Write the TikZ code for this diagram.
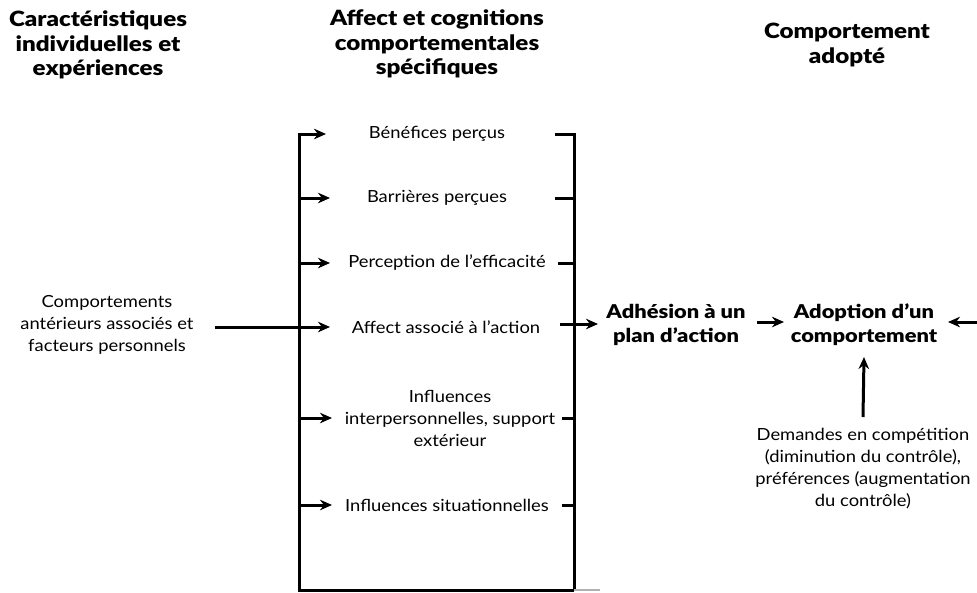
\documentclass[tikz,border=0pt]{standalone}
\usepackage{fontspec}
\setmainfont{Lato}[FakeStretch=1.1]
\newfontfamily\heavyfont{Lato Black}[FakeStretch=1.15]
\usetikzlibrary{arrows.meta}
\begin{document}
\begin{tikzpicture}[x=1pt,y=-1pt,
  body/.style={align=center,font=\fontsize{16.7}{22}\selectfont,inner sep=0pt},
  head/.style={align=center,font=\heavyfont\fontsize{21}{24.5}\selectfont,inner sep=0pt},
  key/.style={align=center,font=\heavyfont\fontsize{19}{24}\selectfont,inner sep=0pt},
  wire/.style={line width=3pt,line join=miter},
  arr/.style={wire,-{Stealth[length=12pt,width=10.5pt]}}]
\useasboundingbox (0,0) rectangle (977,592);

% column headings
\node[head] (h1) at (98,45) {Caractéristiques\\individuelles et\\expériences};
\node[head] (h2) at (437,44) {Affect et cognitions\\comportementales\\spécifiques};
\node[head] (h3) at (847,45) {Comportement\\adopté};

% left column
\node[body] (src) at (107,325) {Comportements\\antérieurs associés et\\facteurs personnels};

% middle column factors
\node[body] (b1) at (437,134) {Bénéfices perçus};
\node[body] (b2) at (437,198) {Barrières perçues};
\node[body] (b3) at (447,263) {Perception de l’efficacité};
\node[body] (b4) at (446,327) {Affect associé à l’action};
\node[body] (b5) at (450,418) {Influences\\interpersonnelles, support\\extérieur};
\node[body] (b6) at (447,505) {Influences situationnelles};

% right column
\node[key] (adh) at (676,325) {Adhésion à un\\plan d’action};
\node[key] (ado) at (864,325) {Adoption d’un\\comportement};
\node[body] (dem) at (863,469) {Demandes en compétition\\(diminution du contrôle),\\préférences (augmentation\\du contrôle)};

% bracket corners
\coordinate (Ltop) at (299,134);
\coordinate (Lbot) at (299,590);
\coordinate (Rbot) at (574,590);
\coordinate (Rtop) at (574,134);

% arrow tips on the left side of the factors
\coordinate (t1) at (326,134);
\coordinate (t2) at (330,198);
\coordinate (t3) at (330,263);
\coordinate (t4) at (330,327);
\coordinate (t5) at (332,418);
\coordinate (t6) at (332,505);

% stub ends on the right side of the factors
\coordinate (s1) at (555,134);
\coordinate (s2) at (555,198);
\coordinate (s3) at (558,263);
\coordinate (s4) at (560,324);
\coordinate (s5) at (562,418);
\coordinate (s6) at (562,505);

% bracket
\draw[arr] (Rbot) -- (Lbot) -- (Ltop) -- (t1);
\draw[wire] (s1) -- (Rtop) -- (Rbot);
\draw[gray!60,line width=1.2pt] (Rbot) -- (600,590);

% feeding arrows
\draw[arr] (Lbot |- t2) -- (t2);
\draw[arr] (Lbot |- t3) -- (t3);
\draw[arr] (Lbot |- t5) -- (t5);
\draw[arr] (Lbot |- t6) -- (t6);
\coordinate (srcout) at (215,327);
\draw[arr] (srcout) -- (t4);

% stubs into the right rail
\draw[wire] (s2) -- (Rtop |- s2);
\draw[wire] (s3) -- (Rtop |- s3);
\draw[wire] (s5) -- (Rtop |- s5);
\draw[wire] (s6) -- (Rtop |- s6);

% outputs
\coordinate (adhin) at (598,324);
\draw[arr] (s4) -- (adhin);
\coordinate (adhout) at (757,322);
\coordinate (adoin) at (784,322);
\draw[arr] (adhout) -- (adoin);
\coordinate (ext) at (977,322);
\coordinate (adoext) at (948,322);
\draw[arr] (ext) -- (adoext);
\draw[arr] (dem.north |- 0,417) -- (ado.south |- 0,357);
\end{tikzpicture}
\end{document}
